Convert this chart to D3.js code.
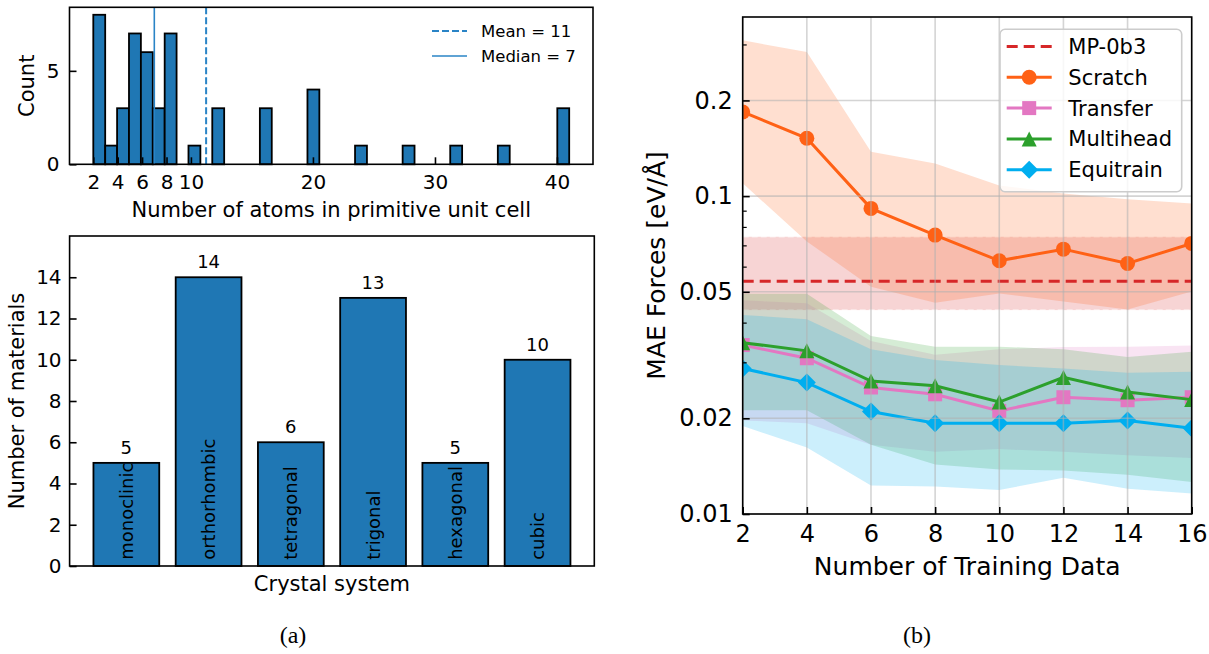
<!DOCTYPE html>
<html><head><meta charset="utf-8">
<script src="https://cdn.jsdelivr.net/npm/d3@7"></script>
<style>body{margin:0;background:#fff}svg{display:block}</style>
</head><body>
<script>
// ---------- data ----------
const atomCounts = [2,3,4,5,6,7,8,10,12,16,20,24,28,32,36,41];
const atomFreq   = [8,1,3,7,6,3,7,1,3,3,4,1,1,1,1,3];
const histXTicks = [2,4,6,8,10,20,30,40];
const histYTicks = [0,5];

const crystalSystems = ["monoclinic","orthorhombic","tetragonal","trigonal","hexagonal","cubic"];
const crystalCounts  = [5,14,6,13,5,10];
const barYTicks = [0,2,4,6,8,10,12,14];

const trainSizes = [2,4,6,8,10,12,14,16];
const mp0b3 = 0.054, mp0b3Low = 0.0438, mp0b3High = 0.0745;
const scratch      = [0.184,0.152,0.0915,0.0754,0.0626,0.0681,0.0614,0.0710];
const scratchLow   = [0.1097,0.072,0.0519,0.0462,0.0494,0.0466,0.0440,0.0501];
const scratchHigh  = [0.309,0.284,0.138,0.1267,0.108,0.102,0.0977,0.0948];
const transfer     = [0.0340,0.0309,0.0250,0.0238,0.0211,0.0233,0.0228,0.0233];
const transferLow  = [0.0197,0.0193,0.0165,0.0157,0.0160,0.0157,0.0153,0.0150];
const transferHigh = [0.0470,0.0460,0.0350,0.0317,0.0330,0.0335,0.0336,0.0339];
const multihead     = [0.0346,0.0326,0.0262,0.0253,0.0225,0.0269,0.0242,0.0229];
const multiheadLow  = [0.0212,0.0212,0.0165,0.0143,0.0138,0.0137,0.0133,0.0126];
const multiheadHigh = [0.0493,0.0493,0.0363,0.0336,0.0336,0.0330,0.0312,0.0324];
const equitrain     = [0.0287,0.0259,0.0210,0.0193,0.0193,0.0193,0.0197,0.0186];
const equitrainLow  = [0.0189,0.0162,0.0123,0.0122,0.0119,0.0130,0.0120,0.0116];
const equitrainHigh = [0.0423,0.0410,0.0330,0.0305,0.0294,0.0287,0.0278,0.0280];
const maeTicks = [0.01,0.02,0.05,0.1,0.2];
const maeMinorTicks = [0.03,0.04,0.06,0.07,0.08,0.09,0.3];

// ---------- setup ----------
const F = "DejaVu Sans";
const svg = d3.select("body").append("svg").attr("width",1209).attr("height",654)
  .style("font-family",F);

function styleAxis(g, fs){
  g.select(".domain").remove();
  g.selectAll(".tick line").attr("stroke","#000").attr("stroke-width",1.6);
  g.selectAll(".tick text").attr("fill","#000").style("font-size",fs+"px").style("font-family",F);
}

// ---------- (a) histogram ----------
{
  const L=69.5,R=593,T=7.3,B=164.3;
  const x = d3.scaleLinear([0.05,42.95],[L,R]);
  const y = d3.scaleLinear([0,8.4],[B,T]);
  const values = atomCounts.flatMap((v,i)=>Array(atomFreq[i]).fill(v));
  const bins = d3.bin().domain([2,41]).thresholds(d3.range(1,40).map(k=>2+k*39/40))(values);
  const g = svg.append("g");
  g.selectAll("rect.bar").data(bins.filter(b=>b.length>0)).join("rect")
    .attr("x",b=>x(b.x0)).attr("width",b=>x(b.x1)-x(b.x0))
    .attr("y",b=>y(b.length)).attr("height",b=>y(0)-y(b.length))
    .attr("fill","#1f77b4").attr("stroke","#000").attr("stroke-width",1.8);
  const mean = d3.mean(values), median = d3.median(values);
  g.append("line").attr("x1",x(mean)).attr("x2",x(mean)).attr("y1",T).attr("y2",B)
    .attr("stroke","#2a84c6").attr("stroke-width",2).attr("stroke-dasharray","7,3");
  g.append("line").attr("x1",x(median)).attr("x2",x(median)).attr("y1",T).attr("y2",B)
    .attr("stroke","#2a84c6").attr("stroke-width",1.6);
  const ax = g.append("g").attr("transform",`translate(0,${B})`)
    .call(d3.axisBottom(x).tickValues(histXTicks).tickSizeInner(-7).tickSizeOuter(0).tickPadding(11));
  styleAxis(ax,20);
  const ay = g.append("g").attr("transform",`translate(${L},0)`)
    .call(d3.axisLeft(y).tickValues(histYTicks).tickSizeInner(-7).tickSizeOuter(0).tickPadding(10));
  styleAxis(ay,20);
  g.append("rect").attr("x",L).attr("y",T).attr("width",R-L).attr("height",B-T)
    .attr("fill","none").attr("stroke","#000").attr("stroke-width",1.6);
  g.append("text").attr("x",(L+R)/2).attr("y",210).attr("dy","0.35em").attr("text-anchor","middle")
    .style("font-size","21px").text("Number of atoms in primitive unit cell");
  g.append("text").attr("transform",`translate(27,${(T+B)/2}) rotate(-90)`).attr("dy","0.35em")
    .attr("text-anchor","middle").style("font-size","21px").text("Count");
  // legend
  const leg = [{lab:`Mean = ${Math.round(mean)}`,dash:"7,3",w:2,y:31},{lab:`Median = ${Math.round(median)}`,dash:null,w:1.6,y:56}];
  leg.forEach(d=>{
    g.append("line").attr("x1",432).attr("x2",467).attr("y1",d.y).attr("y2",d.y)
      .attr("stroke","#2a84c6").attr("stroke-width",d.w).attr("stroke-dasharray",d.dash);
    g.append("text").attr("x",481).attr("y",d.y).attr("dy","0.36em").style("font-size","16.5px").text(d.lab);
  });
}

// ---------- (a) bar chart ----------
{
  const L=69.6,R=594.3,T=236,B=566;
  const x = d3.scaleBand().domain(crystalSystems).range([L,R]).paddingInner(0.2).paddingOuter(0.29);
  const y = d3.scaleLinear([0,16],[B,T]);
  const g = svg.append("g");
  const data = crystalSystems.map((c,i)=>({c,v:crystalCounts[i]}));
  g.selectAll("rect.bar").data(data).join("rect")
    .attr("x",d=>x(d.c)).attr("width",x.bandwidth()).attr("y",d=>y(d.v)).attr("height",d=>y(0)-y(d.v))
    .attr("fill","#1f77b4").attr("stroke","#000").attr("stroke-width",1.8);
  g.selectAll("text.val").data(data).join("text")
    .attr("x",d=>x(d.c)+x.bandwidth()/2).attr("y",d=>y(d.v)-9).attr("text-anchor","middle")
    .style("font-size","18px").text(d=>d.v);
  g.selectAll("text.cat").data(data).join("text")
    .attr("transform",d=>`translate(${x(d.c)+x.bandwidth()/2},${y(0.3)}) rotate(-90)`)
    .attr("dy","0.36em").attr("text-anchor","start").style("font-size","18px").text(d=>d.c);
  const ay = g.append("g").attr("transform",`translate(${L},0)`)
    .call(d3.axisLeft(y).tickValues(barYTicks).tickSizeInner(-7).tickSizeOuter(0).tickPadding(8));
  styleAxis(ay,20);
  g.append("rect").attr("x",L).attr("y",T).attr("width",R-L).attr("height",B-T)
    .attr("fill","none").attr("stroke","#000").attr("stroke-width",1.6);
  g.append("text").attr("x",(L+R)/2).attr("y",583.5).attr("dy","0.35em").attr("text-anchor","middle")
    .style("font-size","21px").text("Crystal system");
  g.append("text").attr("transform",`translate(17,${(T+B)/2}) rotate(-90)`).attr("dy","0.35em")
    .attr("text-anchor","middle").style("font-size","21px").text("Number of materials");
}

// ---------- (b) MAE forces ----------
{
  const L=742.7,R=1191.7,T=17,B=514;
  const x = d3.scaleLinear([2,16],[L,R]);
  const y = d3.scaleLog([0.01,0.366],[B,T]);
  const g = svg.append("g");
  const clip = g.append("clipPath").attr("id","clipb").append("rect")
    .attr("x",L).attr("y",T).attr("width",R-L).attr("height",B-T);
  const pg = g.append("g").attr("clip-path","url(#clipb)");
  const area = (lo,hi)=>d3.area().x((d,i)=>x(trainSizes[i])).y0((d,i)=>y(lo[i])).y1((d,i)=>y(hi[i]))(trainSizes);
  // MP band
  pg.append("rect").attr("x",L).attr("width",R-L).attr("y",y(mp0b3High)).attr("height",y(mp0b3Low)-y(mp0b3High))
    .attr("fill","#d62728").attr("fill-opacity",0.2);
  [mp0b3High,mp0b3Low].forEach(v=>pg.append("line").attr("x1",L).attr("x2",R).attr("y1",y(v)).attr("y2",y(v))
    .attr("stroke","#fff").attr("stroke-opacity",0.55).attr("stroke-width",1.6).attr("stroke-dasharray","6,3"));
  const series = [
    {name:"Scratch",c:"#ff6115",v:scratch,lo:scratchLow,hi:scratchHigh,m:"circle"},
    {name:"Transfer",c:"#e377c2",v:transfer,lo:transferLow,hi:transferHigh,m:"square"},
    {name:"Multihead",c:"#2ca02c",v:multihead,lo:multiheadLow,hi:multiheadHigh,m:"triangle"},
    {name:"Equitrain",c:"#00aeef",v:equitrain,lo:equitrainLow,hi:equitrainHigh,m:"diamond"},
  ];
  series.forEach(s=>pg.append("path").attr("d",area(s.lo,s.hi)).attr("fill",s.c).attr("fill-opacity",0.2));
  // grid
  trainSizes.forEach(t=>g.append("line").attr("x1",x(t)).attr("x2",x(t)).attr("y1",T).attr("y2",B)
    .attr("stroke","#b0b0b0").attr("stroke-opacity",0.55).attr("stroke-width",1.6));
  maeTicks.forEach(t=>g.append("line").attr("x1",L).attr("x2",R).attr("y1",y(t)).attr("y2",y(t))
    .attr("stroke","#b0b0b0").attr("stroke-opacity",0.55).attr("stroke-width",1.6));
  // MP line
  pg.append("line").attr("x1",L).attr("x2",R).attr("y1",y(mp0b3)).attr("y2",y(mp0b3))
    .attr("stroke","#d62728").attr("stroke-width",3).attr("stroke-dasharray","11,6");
  function marker(sel,m,c){
    if(m==="circle") sel.append("circle").attr("r",7.5).attr("fill",c);
    else if(m==="square") sel.append("rect").attr("x",-7).attr("y",-7).attr("width",14).attr("height",14).attr("fill",c);
    else if(m==="triangle") sel.append("path").attr("d","M0,-7.5L7.5,7.5L-7.5,7.5Z").attr("fill",c);
    else sel.append("path").attr("d","M0,-9L9,0L0,9L-9,0Z").attr("fill",c);
  }
  const line = d3.line().x((d,i)=>x(trainSizes[i])).y(d=>y(d));
  series.forEach(s=>{
    pg.append("path").attr("d",line(s.v)).attr("fill","none").attr("stroke",s.c).attr("stroke-width",3);
    s.v.forEach((v,i)=>{ const mg=pg.append("g").attr("transform",`translate(${x(trainSizes[i])},${y(v)})`); marker(mg,s.m,s.c); });
  });
  // axes
  const ax = g.append("g").attr("transform",`translate(0,${B})`)
    .call(d3.axisBottom(x).tickValues(trainSizes).tickSizeInner(-7).tickSizeOuter(0).tickPadding(11));
  styleAxis(ax,24);
  const ay = g.append("g").attr("transform",`translate(${L},0)`)
    .call(d3.axisLeft(y).tickValues(maeTicks).tickFormat(d3.format("")).tickSizeInner(-7).tickSizeOuter(0).tickPadding(10));
  styleAxis(ay,24);
  const aym = g.append("g").attr("transform",`translate(${L},0)`)
    .call(d3.axisLeft(y).tickValues(maeMinorTicks).tickFormat("").tickSizeInner(-4).tickSizeOuter(0));
  aym.select(".domain").remove();
  aym.selectAll(".tick line").attr("stroke","#000").attr("stroke-width",1.2);
  g.append("rect").attr("x",L).attr("y",T).attr("width",R-L).attr("height",B-T)
    .attr("fill","none").attr("stroke","#000").attr("stroke-width",1.6);
  g.append("text").attr("x",(L+R)/2).attr("y",566.5).attr("dy","0.35em").attr("text-anchor","middle")
    .style("font-size","25px").text("Number of Training Data");
  g.append("text").attr("transform",`translate(656.5,${(T+B)/2}) rotate(-90)`).attr("dy","0.35em")
    .attr("text-anchor","middle").style("font-size","25px").text("MAE Forces [eV/Å]");
  // legend
  const lx=1000, ly=29.3, lw=181.7, lh=162.4;
  g.append("rect").attr("x",lx).attr("y",ly).attr("width",lw).attr("height",lh).attr("rx",5)
    .attr("fill","#fff").attr("fill-opacity",0.8).attr("stroke","#cccccc").attr("stroke-width",1.6);
  const entries = [{name:"MP-0b3",c:"#d62728",m:null}].concat(series);
  entries.forEach((e,i)=>{
    const yy = 46.5 + i*30.8;
    const le = g.append("line").attr("x1",1006.7).attr("x2",1051.7).attr("y1",yy).attr("y2",yy)
      .attr("stroke",e.c).attr("stroke-width",3);
    if(!e.m) le.attr("stroke-dasharray","11,6");
    else { const mg=g.append("g").attr("transform",`translate(1029.2,${yy})`); marker(mg,e.m,e.c); }
    g.append("text").attr("x",1068.3).attr("y",yy).attr("dy","0.36em").style("font-size","21px").text(e.name);
  });
}

// ---------- subfigure captions ----------
svg.append("text").attr("x",293).attr("y",635).attr("dy","0.35em").attr("text-anchor","middle")
  .style("font-family","Liberation Serif").style("font-size","24px").text("(a)");
svg.append("text").attr("x",917).attr("y",635).attr("dy","0.35em").attr("text-anchor","middle")
  .style("font-family","Liberation Serif").style("font-size","24px").text("(b)");
</script>
</body></html>
